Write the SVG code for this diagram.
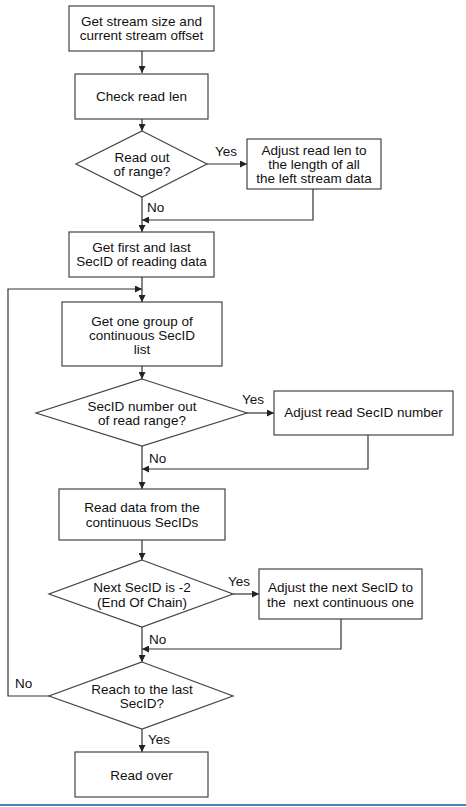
<svg xmlns="http://www.w3.org/2000/svg" width="466" height="807" viewBox="0 0 466 807">
<defs>
<marker id="ah" viewBox="0 0 10 10" refX="10" refY="5" markerWidth="7" markerHeight="7" markerUnits="userSpaceOnUse" orient="auto">
<path d="M0,0 L10,5 L0,10 z" fill="#222"/>
</marker>
<style>
.n rect,.n polygon{fill:#fff;stroke:#444;stroke-width:1.2}
text{font-family:"Liberation Sans",Arial,sans-serif;font-size:13.5px;fill:#111;text-anchor:middle}
.c path{fill:none;stroke:#333;stroke-width:1.2}
.c .a{marker-end:url(#ah)}
.lbl{text-anchor:start}
</style>
</defs>
<rect width="466" height="807" fill="#fff"/>
<g class="c" id="connectors">
<path class="a" d="M142,51 V73"/>
<path class="a" d="M142,119 V131"/>
<path class="a" d="M207,164 H247"/>
<path class="a" d="M313,189 V220 H142"/>
<path class="a" d="M142,197 V232"/>
<path class="a" d="M142,277 V302"/>
<path class="a" d="M49,696 H8 V289 H142"/>
<path class="a" d="M142,366 V379"/>
<path class="a" d="M247,413 H274"/>
<path class="a" d="M368,435 V469 H142"/>
<path class="a" d="M142,446 V489"/>
<path class="a" d="M142,540 V560"/>
<path class="a" d="M233,594 H259"/>
<path class="a" d="M341,619 V649 H142"/>
<path class="a" d="M142,627 V662"/>
<path class="a" d="M142,729 V752"/>
<text class="lbl" x="215" y="156">Yes</text>
<text class="lbl" x="147" y="212">No</text>
<text class="lbl" x="242" y="404">Yes</text>
<text class="lbl" x="149" y="463">No</text>
<text class="lbl" x="228" y="586">Yes</text>
<text class="lbl" x="149" y="644">No</text>
<text class="lbl" x="15" y="688">No</text>
<text class="lbl" x="148" y="744">Yes</text>
</g>
<g class="n" id="n1"><rect x="69" y="6" width="145" height="45"/><text x="141.5" y="26">Get stream size and</text><text x="141.5" y="40">current stream offset</text></g>
<g class="n" id="n2"><rect x="75" y="74" width="133" height="45"/><text x="141.5" y="101">Check read len</text></g>
<g class="n" id="n3"><polygon points="142,131 207,164 142,197 76,164"/><text x="142" y="162">Read out</text><text x="142" y="176">of range?</text></g>
<g class="n" id="n4"><rect x="247" y="139" width="134" height="50"/><text x="314" y="155">Adjust read len to</text><text x="314" y="169">the length of all</text><text x="314" y="183">the left stream data</text></g>
<g class="n" id="n5"><rect x="69" y="232" width="145" height="45"/><text x="141.5" y="252">Get first and last</text><text x="141.5" y="266">SecID of reading data</text></g>
<g class="n" id="n6"><rect x="62" y="302" width="160" height="64"/><text x="142" y="326">Get one group of</text><text x="142" y="340">continuous SecID</text><text x="142" y="354">list</text></g>
<g class="n" id="n7"><polygon points="142,379 247,413 142,446 36,413"/><text x="142" y="411">SecID number out</text><text x="142" y="425">of read range?</text></g>
<g class="n" id="n8"><rect x="274" y="391" width="179" height="44"/><text x="363.5" y="417">Adjust read SecID number</text></g>
<g class="n" id="n9"><rect x="59" y="489" width="166" height="51"/><text x="142" y="512">Read data from the</text><text x="142" y="527">continuous SecIDs</text></g>
<g class="n" id="n10"><polygon points="142,560 233,594 142,627 49,594"/><text x="142" y="592">Next SecID is -2</text><text x="142" y="607">(End Of Chain)</text></g>
<g class="n" id="n11"><rect x="259" y="569" width="163" height="50"/><text x="340.5" y="592">Adjust the next SecID to</text><text x="340.5" y="607" xml:space="preserve">the  next continuous one</text></g>
<g class="n" id="n12"><polygon points="142,662 233,696 142,729 49,696"/><text x="142" y="694">Reach to the last</text><text x="142" y="708">SecID?</text></g>
<g class="n" id="n13"><rect x="75" y="752" width="133" height="45"/><text x="141.5" y="780">Read over</text></g>
<rect x="0" y="804" width="466" height="2" fill="#4f81bd"/>
</svg>
